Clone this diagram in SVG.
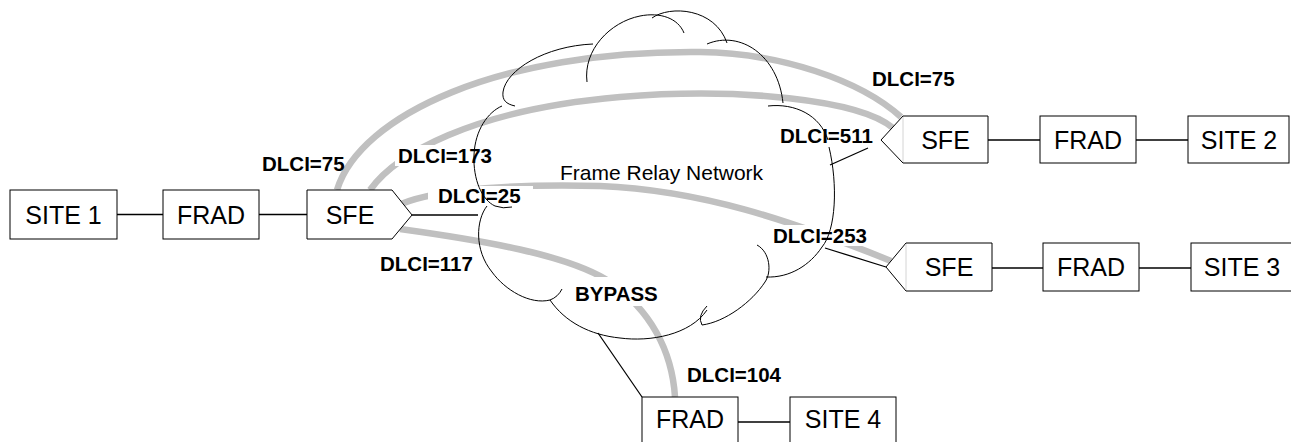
<svg xmlns="http://www.w3.org/2000/svg" width="1291" height="442" viewBox="0 0 1291 442">
<style>
.box{fill:#fff;stroke:#000;stroke-width:1}
.nt{font-family:"Liberation Sans",Arial,sans-serif;font-size:25px;fill:#000;text-anchor:middle}
.lb{font-family:"Liberation Sans",Arial,sans-serif;font-size:20.5px;font-weight:bold;fill:#000}
.gray{fill:none;stroke:#c0c0c0;stroke-width:6.5}
.ln{fill:none;stroke:#000;stroke-width:1.3}
.cl{fill:none;stroke:#000;stroke-width:1}
.bg{fill:#fff}
.edge{stroke:#d4d4d4;stroke-width:1}
</style>
<rect width="1291" height="442" fill="#fff"/>
<g id="virtual-circuits">
<path class="gray" d="M337,190 C360,115 500,50 700,52 C780,53 860,80 901,117"/>
<path class="gray" d="M370,190 C395,155 470,110 620,97 C740,87 860,100 893,128"/>
<path class="gray" d="M401,204 C440,188 520,184 600,186 C700,190 790,220 891,261"/>
<path class="gray" d="M400,229 C480,240 570,255 610,282 C650,310 672,350 675,397"/>
</g>
<g id="label-backgrounds">
<rect class="bg" x="395" y="145" width="102" height="21"/>
<rect class="bg" x="428" y="186" width="105" height="21"/>
<rect class="bg" x="770" y="225" width="101" height="21"/>
<rect class="bg" x="572" y="277" width="90" height="29"/>
</g>
<g id="cloud">
<path class="cl" d="M515,106 C506,104 502,100 503,92 C506,70 545,46 593,44"/>
<path class="cl" d="M587,82 C583,50 610,22 640,16 C660,12 678,18 684,33"/>
<path class="cl" d="M652,18 C670,5 715,8 727,43"/>
<path class="cl" d="M707,44 C740,30 778,55 783,103"/>
<path class="cl" d="M768,106 C795,103 820,115 828,140"/>
<path class="cl" d="M829,147 C838,185 836,230 822,247 C810,265 790,278 766,277"/>
<path class="cl" d="M757,245 C770,252 772,272 765,282 C752,302 725,322 702,325 Q697,316 707,306"/>
<path class="cl" d="M707,310 C690,335 650,342 620,338 C590,335 565,322 550,300"/>
<path class="cl" d="M487,206 C476,220 474,250 492,272 C505,290 530,305 550,300 Q558,297 562,289"/>
<path class="cl" d="M502,106 C488,112 475,130 474,155 C473,180 482,200 495,206 Q503,209 512,207"/>
<text x="560" y="180" font-family="Liberation Sans,Arial,sans-serif" font-size="21px" fill="#000">Frame Relay Network</text>
</g>
<g id="connectors">
<line class="ln" x1="117" y1="214.5" x2="163" y2="214.5"/>
<line class="ln" x1="259" y1="214.5" x2="307" y2="214.5"/>
<line class="ln" x1="412" y1="215" x2="478" y2="215"/>
<line class="ln" x1="868" y1="148" x2="830" y2="165"/>
<line class="ln" x1="988" y1="140" x2="1040" y2="140"/>
<line class="ln" x1="1136" y1="140" x2="1188" y2="140"/>
<line class="ln" x1="825" y1="248" x2="886" y2="267"/>
<line class="ln" x1="992" y1="268" x2="1043" y2="268"/>
<line class="ln" x1="1139" y1="268" x2="1191" y2="268"/>
<line class="ln" x1="598" y1="333" x2="642" y2="397"/>
<line class="ln" x1="738" y1="422" x2="790" y2="422"/>
</g>
<g id="site1"><rect class="box" x="10" y="190" width="107" height="49"/><text class="nt" x="63.5" y="223.5">SITE 1</text></g>
<g id="frad1"><rect class="box" x="163" y="190" width="96" height="49"/><text class="nt" x="211" y="223.5">FRAD</text></g>
<g id="sfe1"><polygon class="box" points="307,190 392,190 412,215 392,239 307,239"/><text class="nt" x="350" y="223.5">SFE</text></g>
<g id="sfe2"><polygon class="box" points="903,116 988,116 988,163 903,163 881,140"/><line class="edge" x1="903" y1="117" x2="903" y2="162"/><text class="nt" x="945.5" y="148.5">SFE</text></g>
<g id="frad2"><rect class="box" x="1040" y="116" width="96" height="47"/><text class="nt" x="1088" y="148.5">FRAD</text></g>
<g id="site2"><rect class="box" x="1188" y="116" width="101" height="47"/><text class="nt" x="1239" y="148.5">SITE 2</text></g>
<g id="sfe3"><polygon class="box" points="906,243 992,243 992,291 906,291 886,267"/><line class="edge" x1="906" y1="244" x2="906" y2="290"/><text class="nt" x="949" y="276">SFE</text></g>
<g id="frad3"><rect class="box" x="1043" y="243" width="96" height="48"/><text class="nt" x="1091" y="276">FRAD</text></g>
<g id="site3"><rect class="box" x="1191" y="243" width="102" height="48"/><text class="nt" x="1242" y="276">SITE 3</text></g>
<g id="frad4"><rect class="box" x="642" y="397" width="96" height="48"/><text class="nt" x="690" y="428">FRAD</text></g>
<g id="site4"><rect class="box" x="790" y="397" width="106" height="48"/><text class="nt" x="843" y="428">SITE 4</text></g>
<g id="labels">
<text class="lb" x="262" y="171">DLCI=75</text>
<text class="lb" x="398" y="163">DLCI=173</text>
<text class="lb" x="438" y="203">DLCI=25</text>
<text class="lb" x="380" y="271">DLCI=117</text>
<text class="lb" x="575" y="301">BYPASS</text>
<text class="lb" x="872" y="86">DLCI=75</text>
<text class="lb" x="780" y="143">DLCI=511</text>
<text class="lb" x="773" y="243">DLCI=253</text>
<text class="lb" x="687" y="382">DLCI=104</text>
</g>
</svg>
